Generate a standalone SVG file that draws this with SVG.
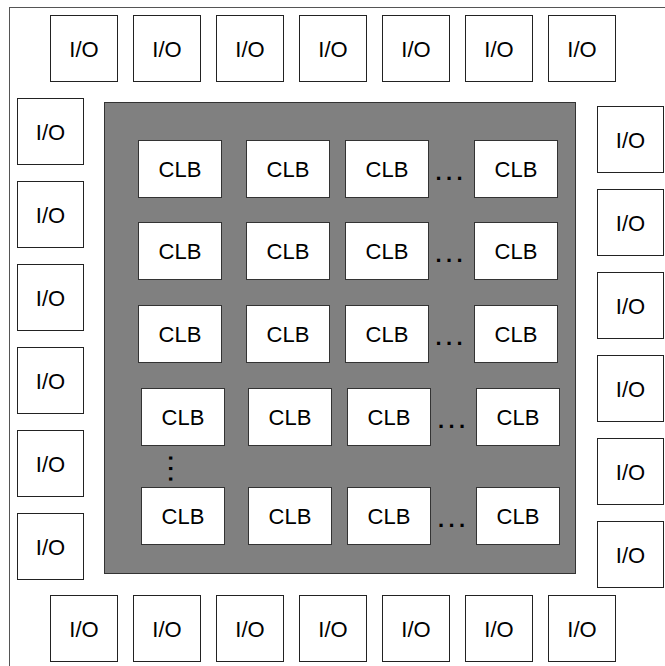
<svg xmlns="http://www.w3.org/2000/svg" width="665" height="666" viewBox="0 0 665 666">
<style>
.frame{fill:#fff;stroke:#555;stroke-width:1}
.io rect{fill:#fff;stroke:#222;stroke-width:1}
.clb rect{fill:#fff;stroke:#333;stroke-width:1}
.core{fill:#808080;stroke:#333;stroke-width:1}
text{font-family:"Liberation Sans",Arial,sans-serif;font-size:22px;fill:#000;text-anchor:middle}
.dots{font-size:22px;font-weight:bold;letter-spacing:4.4px;text-anchor:start}
</style>
<rect class="frame" x="9.5" y="7.5" width="700" height="700"/>
<rect id="core" class="core" x="104.5" y="102.5" width="471" height="471"/>
<g id="io-top">
<g id="io-t1" class="io"><rect x="50.5" y="15.5" width="67" height="66"/><text x="84" y="56.5">I/O</text></g>
<g id="io-t2" class="io"><rect x="133.5" y="15.5" width="67" height="66"/><text x="167" y="56.5">I/O</text></g>
<g id="io-t3" class="io"><rect x="216.5" y="15.5" width="67" height="66"/><text x="250" y="56.5">I/O</text></g>
<g id="io-t4" class="io"><rect x="299.5" y="15.5" width="67" height="66"/><text x="333" y="56.5">I/O</text></g>
<g id="io-t5" class="io"><rect x="382.5" y="15.5" width="67" height="66"/><text x="416" y="56.5">I/O</text></g>
<g id="io-t6" class="io"><rect x="465.5" y="15.5" width="67" height="66"/><text x="499" y="56.5">I/O</text></g>
<g id="io-t7" class="io"><rect x="548.5" y="15.5" width="67" height="66"/><text x="582" y="56.5">I/O</text></g>
</g>
<g id="io-bottom">
<g id="io-b1" class="io"><rect x="50.5" y="595.5" width="67" height="66"/><text x="84" y="636.5">I/O</text></g>
<g id="io-b2" class="io"><rect x="133.5" y="595.5" width="67" height="66"/><text x="167" y="636.5">I/O</text></g>
<g id="io-b3" class="io"><rect x="216.5" y="595.5" width="67" height="66"/><text x="250" y="636.5">I/O</text></g>
<g id="io-b4" class="io"><rect x="299.5" y="595.5" width="67" height="66"/><text x="333" y="636.5">I/O</text></g>
<g id="io-b5" class="io"><rect x="382.5" y="595.5" width="67" height="66"/><text x="416" y="636.5">I/O</text></g>
<g id="io-b6" class="io"><rect x="465.5" y="595.5" width="67" height="66"/><text x="499" y="636.5">I/O</text></g>
<g id="io-b7" class="io"><rect x="548.5" y="595.5" width="67" height="66"/><text x="582" y="636.5">I/O</text></g>
</g>
<g id="io-left">
<g id="io-l1" class="io"><rect x="17.5" y="98.5" width="66" height="66"/><text x="50.5" y="139.5">I/O</text></g>
<g id="io-l2" class="io"><rect x="17.5" y="181.5" width="66" height="66"/><text x="50.5" y="222.5">I/O</text></g>
<g id="io-l3" class="io"><rect x="17.5" y="264.5" width="66" height="66"/><text x="50.5" y="305.5">I/O</text></g>
<g id="io-l4" class="io"><rect x="17.5" y="347.5" width="66" height="66"/><text x="50.5" y="388.5">I/O</text></g>
<g id="io-l5" class="io"><rect x="17.5" y="430.5" width="66" height="66"/><text x="50.5" y="471.5">I/O</text></g>
<g id="io-l6" class="io"><rect x="17.5" y="513.5" width="66" height="66"/><text x="50.5" y="554.5">I/O</text></g>
</g>
<g id="io-right">
<g id="io-r1" class="io"><rect x="597.5" y="106.5" width="66" height="66"/><text x="630.5" y="147.5">I/O</text></g>
<g id="io-r2" class="io"><rect x="597.5" y="189.5" width="66" height="66"/><text x="630.5" y="230.5">I/O</text></g>
<g id="io-r3" class="io"><rect x="597.5" y="272.5" width="66" height="66"/><text x="630.5" y="313.5">I/O</text></g>
<g id="io-r4" class="io"><rect x="597.5" y="355.5" width="66" height="66"/><text x="630.5" y="396.5">I/O</text></g>
<g id="io-r5" class="io"><rect x="597.5" y="438.5" width="66" height="66"/><text x="630.5" y="479.5">I/O</text></g>
<g id="io-r6" class="io"><rect x="597.5" y="521.5" width="66" height="66"/><text x="630.5" y="562.5">I/O</text></g>
</g>
<g id="clbs">
<g id="clb-1-1" class="clb"><rect x="138.5" y="140.5" width="83" height="57"/><text x="180" y="177">CLB</text></g>
<g id="clb-1-2" class="clb"><rect x="246.5" y="140.5" width="83" height="57"/><text x="288" y="177">CLB</text></g>
<g id="clb-1-3" class="clb"><rect x="345.5" y="140.5" width="83" height="57"/><text x="387" y="177">CLB</text></g>
<g id="clb-1-4" class="clb"><rect x="474.5" y="140.5" width="83" height="57"/><text x="516" y="177">CLB</text></g>
<g id="clb-2-1" class="clb"><rect x="138.5" y="222.5" width="83" height="57"/><text x="180" y="259">CLB</text></g>
<g id="clb-2-2" class="clb"><rect x="246.5" y="222.5" width="83" height="57"/><text x="288" y="259">CLB</text></g>
<g id="clb-2-3" class="clb"><rect x="345.5" y="222.5" width="83" height="57"/><text x="387" y="259">CLB</text></g>
<g id="clb-2-4" class="clb"><rect x="474.5" y="222.5" width="83" height="57"/><text x="516" y="259">CLB</text></g>
<g id="clb-3-1" class="clb"><rect x="138.5" y="305.5" width="83" height="57"/><text x="180" y="342">CLB</text></g>
<g id="clb-3-2" class="clb"><rect x="246.5" y="305.5" width="83" height="57"/><text x="288" y="342">CLB</text></g>
<g id="clb-3-3" class="clb"><rect x="345.5" y="305.5" width="83" height="57"/><text x="387" y="342">CLB</text></g>
<g id="clb-3-4" class="clb"><rect x="474.5" y="305.5" width="83" height="57"/><text x="516" y="342">CLB</text></g>
<g id="clb-4-1" class="clb"><rect x="141.5" y="388.5" width="83" height="57"/><text x="183" y="425">CLB</text></g>
<g id="clb-4-2" class="clb"><rect x="248.5" y="388.5" width="83" height="57"/><text x="290" y="425">CLB</text></g>
<g id="clb-4-3" class="clb"><rect x="347.5" y="388.5" width="83" height="57"/><text x="389" y="425">CLB</text></g>
<g id="clb-4-4" class="clb"><rect x="476.5" y="388.5" width="83" height="57"/><text x="518" y="425">CLB</text></g>
<g id="clb-5-1" class="clb"><rect x="141.5" y="487.5" width="83" height="57"/><text x="183" y="524">CLB</text></g>
<g id="clb-5-2" class="clb"><rect x="248.5" y="487.5" width="83" height="57"/><text x="290" y="524">CLB</text></g>
<g id="clb-5-3" class="clb"><rect x="347.5" y="487.5" width="83" height="57"/><text x="389" y="524">CLB</text></g>
<g id="clb-5-4" class="clb"><rect x="476.5" y="487.5" width="83" height="57"/><text x="518" y="524">CLB</text></g>
</g>
<g id="ellipses">
<text class="dots" x="435.5" y="180">...</text>
<text class="dots" x="435.5" y="262">...</text>
<text class="dots" x="435.5" y="345">...</text>
<text class="dots" x="438" y="428">...</text>
<text class="dots" x="438" y="527">...</text>
<text class="dots" transform="translate(168.5,455) rotate(90)">...</text>
</g>
</svg>
